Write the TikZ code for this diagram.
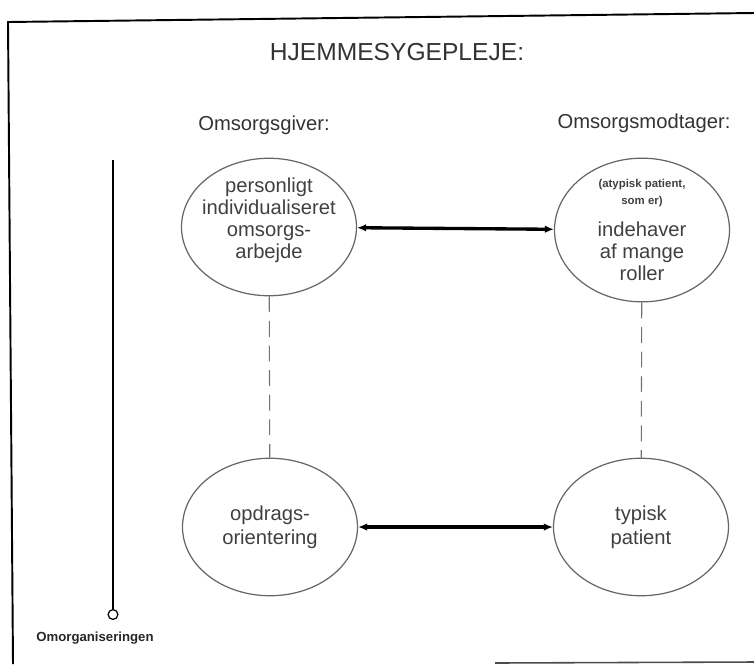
\documentclass[tikz,border=0pt]{standalone}
\usepackage{fontspec}
\setmainfont{Liberation Sans}
\usetikzlibrary{arrows.meta,positioning,shapes.geometric}

\newcommand{\lille}[1]{{\fontsize{6.5}{7}\selectfont\bfseries #1}}

\begin{document}
\begin{tikzpicture}[
  x=0.02cm, y=-0.02cm,
  rolle/.style={ellipse, draw=black!60, line width=0.7pt, inner sep=0pt,
                minimum width=3.5cm, minimum height=2.75cm,
                align=center, font=\fontsize{11.5}{12.5}\selectfont, text=black!75},
  kolonne/.style={font=\fontsize{11.5}{13}\selectfont, text=black!80},
  relation/.style={{Latex[length=1.8mm,width=1.5mm]}-{Latex[length=1.8mm,width=1.5mm]}, line width=1.9pt},
  forbindelse/.style={draw=black!55, dash pattern=on 9pt off 5pt, line width=0.6pt},
  udvikling/.style={-{Circle[open,length=2.2mm,line width=0.7pt]}, line width=1.5pt}
]
\useasboundingbox (0,0) rectangle (754,664);

% Ramme
\draw[line width=1.1pt] (13,664) -- (8,22) -- (754,13);
\draw[line width=0.9pt, black!70] (495,663) -- (754,662);

% Titel og kolonner
\node[font=\fontsize{14}{16}\selectfont, text=black!80] (titel) at (397,52) {HJEMMESYGEPLEJE:};
\node[kolonne] (giver) at (264,125) {Omsorgsgiver:};
\node[kolonne] (modtager) at (644,123) {Omsorgsmodtager:};

% Roller
\node[rolle] (personlig) at (269,227) {};
\node[align=center, font=\fontsize{11.5}{12.5}\selectfont, text=black!75] (personligtekst) at (269,220)
  {personligt\\individualiseret\\omsorgs-\\arbejde};
\node[rolle] (indehaver) at (642,230)
  {\lille{(atypisk patient,}\\[-3pt]\lille{som er)}\\[6pt]
   indehaver\\af mange\\roller};
\node[rolle] (opdrag) at (270,527) {opdrags-\\[1pt]orientering};
\node[rolle] (typisk) at (641,527) {typisk\\[1pt]patient};

% Relationer
\draw[relation] (personlig) -- (indehaver);
\draw[relation] (opdrag) -- (typisk);
\draw[forbindelse] (personlig) -- (opdrag);
\draw[forbindelse] (indehaver) -- (typisk);

% Omorganisering
\coordinate (start) at (113,160);
\coordinate (slut) at (113,620);
\node[font=\fontsize{7.5}{9}\selectfont\bfseries, text=black!85] (omorg) at (95,638) {Omorganiseringen};
\draw[udvikling] (start) -- (slut);

\end{tikzpicture}
\end{document}
